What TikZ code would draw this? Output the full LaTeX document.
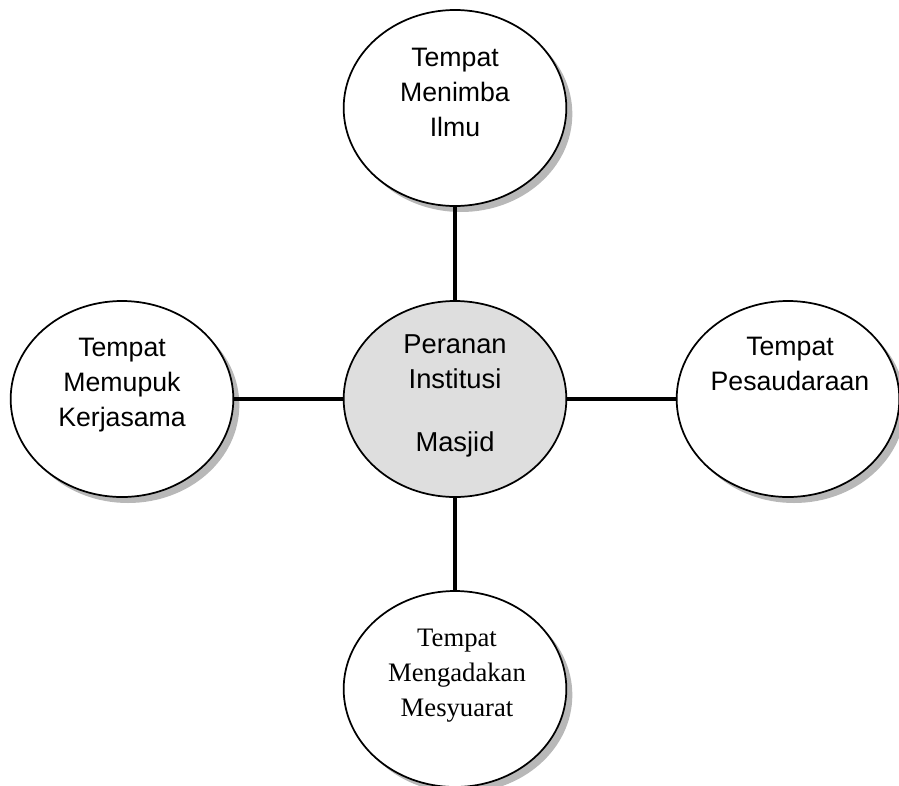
\documentclass[tikz,border=0pt]{standalone}
\usepackage{fontspec}
\usepackage{tikz}
\usetikzlibrary{shapes}
\usetikzlibrary{shadows}
\setmainfont{Liberation Sans}
\newfontfamily\timesfont{Liberation Serif}

\begin{document}
\begin{tikzpicture}[x=0.75pt,y=-0.75pt,
        peran/.style={ellipse,draw=black,line width=1.3pt,fill=white,minimum width=167pt,minimum height=147pt,inner sep=0pt,
            drop shadow={shadow xshift=4.5pt,shadow yshift=-4.5pt,fill=black!28,opacity=1}},
        pusat/.style={ellipse,draw=black,line width=1.3pt,fill=black!13,minimum width=167pt,minimum height=147pt,inner sep=0pt},
        teks/.style={align=center,inner sep=0pt,font=\fontsize{20}{26.25}\selectfont},
        garis/.style={line width=3.6pt}]
        \useasboundingbox (0,0) rectangle (899,785);

        \node[peran] (ilmu) at (455,108) {};
        \node[pusat] (masjid) at (455,399) {};
        \node[peran] (kerjasama) at (122,399) {};
        \node[peran] (saudara) at (788,399) {};
        \node[peran] (mesyuarat) at (455,689) {};

        \node[teks] (ilmuT) at (455,92) {Tempat\\Menimba\\Ilmu};
        \node[teks,font=\fontsize{20.5}{26.25}\selectfont] (masjidT) at (455,396) {Peranan\\Institusi\\[21pt]Masjid};
        \node[teks] (kerjasamaT) at (122,385) {Tempat\\Memupuk\\Kerjasama};
        \node[teks] (saudaraT) at (790,364) {Tempat\\Pesaudaraan};
        \node[teks,font=\timesfont\fontsize{20}{26.25}\selectfont] (mesyuaratT) at (457,676) {Tempat\\Mengadakan\\Mesyuarat};

        \draw[garis] (ilmu) -- (masjid);
        \draw[garis] (masjid) -- (mesyuarat);
        \draw[garis] (kerjasama) -- (masjid);
        \draw[garis] (masjid) -- (saudara);
    \end{tikzpicture}
\end{document}
